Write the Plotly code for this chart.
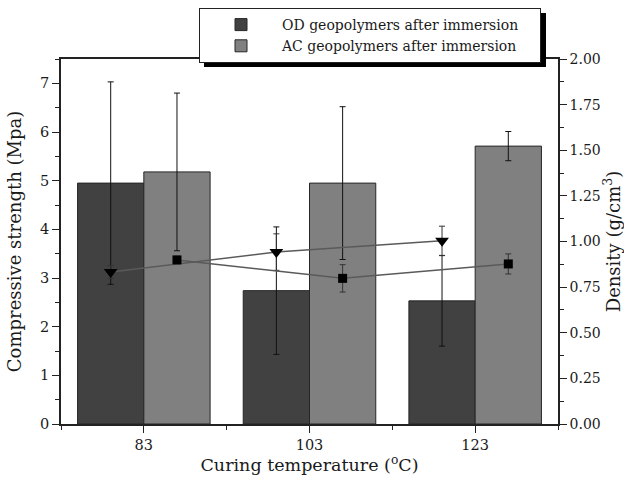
import plotly.graph_objects as go

temps = [83, 103, 123]
tick_labels = ["83", "103", "123"]

od_strength = [4.95, 2.74, 2.53]
od_strength_err = [2.08, 1.31, 0.93]
ac_strength = [5.18, 4.95, 5.71]
ac_strength_err = [1.62, 1.57, 0.30]

od_density = [0.833, 0.942, 1.004]
od_density_err = [0.035, 0.10, 0.08]
ac_density = [0.899, 0.798, 0.877]
ac_density_err = [0.02, 0.075, 0.055]

FONT = "DejaVu Serif"
OD_COLOR = "#414141"
AC_COLOR = "#808080"

fig = go.Figure()

fig.add_trace(go.Bar(
    x=temps, y=od_strength, name="OD geopolymers after immersion",
    marker=dict(color=OD_COLOR, line=dict(color="#262626", width=1)),
    error_y=dict(type="data", array=od_strength_err, color="#111111", thickness=1, width=3),
    offsetgroup="OD", yaxis="y",
))
fig.add_trace(go.Bar(
    x=temps, y=ac_strength, name="AC geopolymers after immersion",
    marker=dict(color=AC_COLOR, line=dict(color="#262626", width=1)),
    error_y=dict(type="data", array=ac_strength_err, color="#111111", thickness=1, width=3),
    offsetgroup="AC", yaxis="y",
))

fig.add_trace(go.Scatter(
    x=temps, y=od_density, mode="lines+markers", showlegend=False,
    marker=dict(symbol="triangle-down", size=12, color="black"),
    line=dict(color="#5a5a5a", width=1.5),
    error_y=dict(type="data", array=od_density_err, color="#333333", thickness=1, width=3),
    offsetgroup="OD", yaxis="y2",
))
fig.add_trace(go.Scatter(
    x=temps, y=ac_density, mode="lines+markers", showlegend=False,
    marker=dict(symbol="square", size=9, color="black"),
    line=dict(color="#5a5a5a", width=1.5),
    error_y=dict(type="data", array=ac_density_err, color="#333333", thickness=1, width=3),
    offsetgroup="AC", yaxis="y2",
))

L, R, T, B = 61, 66, 59, 53
W, H = 624, 477
pw, ph = W - L - R, H - T - B

def px_x(p):
    return (p - L) / pw

def px_y(p):
    return (H - B - p) / ph

fig.add_shape(type="rect", xref="paper", yref="paper",
              x0=px_x(204), x1=px_x(546), y0=px_y(67), y1=px_y(13),
              fillcolor="black", line=dict(width=0), layer="above")

fig.update_layout(
    width=W, height=H,
    margin=dict(l=L, r=R, t=T, b=B, autoexpand=False),
    paper_bgcolor="white", plot_bgcolor="white",
    font=dict(family=FONT, color="#1a1a1a", size=14),
    barmode="group", bargap=0.2, bargroupgap=0,
    scattermode="group", scattergap=0.2,
    showlegend=True,
    legend=dict(
        orientation="h",
        x=px_x(199), y=px_y(8), xanchor="left", yanchor="top",
        bgcolor="white", bordercolor="#222222", borderwidth=1,
        font=dict(family=FONT, size=14, color="#1a1a1a"),
        tracegroupgap=0, itemwidth=72, entrywidth=253, entrywidthmode="pixels",
    ),
    xaxis=dict(
        range=[73, 133], tickvals=temps, ticktext=tick_labels,
        ticks="outside", ticklen=7, tickwidth=1, tickcolor="#222",
        showline=True, linecolor="#222", linewidth=1.5, mirror=True,
        showgrid=False, zeroline=False, automargin=False,
        minor=dict(ticks="outside", dtick=10, tick0=83, ticklen=4, tickcolor="#222", showgrid=False),
        title=dict(text="Curing temperature (<sup>o</sup>C)", font=dict(size=17.5), standoff=4),
        tickfont=dict(size=14.5),
    ),
    yaxis=dict(
        range=[0, 7.5], dtick=1, tick0=0,
        ticks="outside", ticklen=7, tickwidth=1, tickcolor="#222",
        showline=True, linecolor="#222", linewidth=1.5,
        showgrid=False, zeroline=False, automargin=False,
        minor=dict(ticks="outside", dtick=0.5, ticklen=4, tickcolor="#222", showgrid=False),
        title=dict(text="Compressive strength (Mpa)", font=dict(size=18), standoff=14),
        tickfont=dict(size=14.5),
    ),
    yaxis2=dict(
        range=[0, 2], dtick=0.25, tick0=0, tickformat=".2f",
        overlaying="y", side="right",
        ticks="outside", ticklen=7, tickwidth=1, tickcolor="#222",
        showline=True, linecolor="#222", linewidth=1.5,
        showgrid=False, zeroline=False, automargin=False,
        minor=dict(ticks="outside", dtick=0.125, ticklen=4, tickcolor="#222", showgrid=False),
        title=dict(text="Density (g/cm<sup>3</sup>)", font=dict(size=18), standoff=6),
        tickfont=dict(size=14),
    ),
)

fig.write_html("out.html")
